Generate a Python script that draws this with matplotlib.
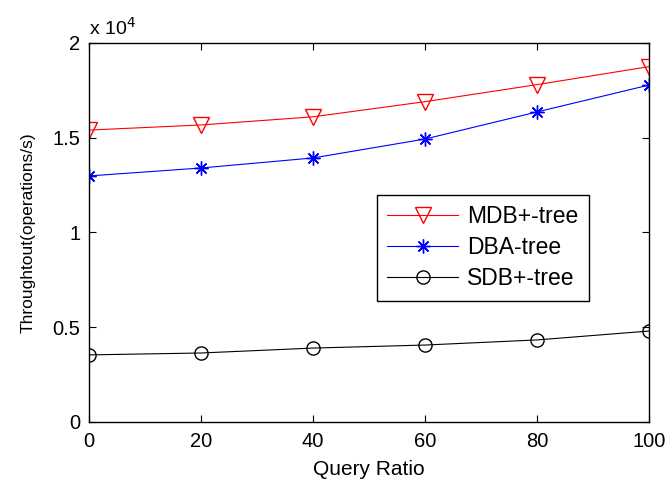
import matplotlib.pyplot as plt
import numpy as np

plt.rcParams['font.family'] = ['Liberation Sans', 'DejaVu Sans']

ratio = [0, 20, 40, 60, 80, 100]
mdb = [15400, 15670, 16100, 16900, 17800, 18750]
dba = [12980, 13400, 13930, 14930, 16360, 17780]
sdb = [3540, 3640, 3900, 4060, 4330, 4800]

fig = plt.figure(figsize=(6.68, 4.82), dpi=100)
ax = fig.add_axes([0.133, 0.1245, 0.839, 0.7865])

scale = 1e4
ax.plot(ratio, np.array(mdb) / scale, 'r-', marker='v', markersize=11,
        markerfacecolor='none', markeredgecolor='r', linewidth=0.8, label='MDB+-tree')
ax.plot(ratio, np.array(dba) / scale, 'b-', marker=(8, 2, 0), markersize=10,
        markeredgecolor='b', markeredgewidth=1.0, linewidth=0.8, label='DBA-tree')
ax.plot(ratio, np.array(sdb) / scale, 'k-', marker='o', markersize=9.5,
        markerfacecolor='none', markeredgecolor='k', linewidth=0.8, label='SDB+-tree')

ax.set_xlim(0, 100)
ax.set_ylim(0, 2)
ax.set_xticks([0, 20, 40, 60, 80, 100])
ax.set_yticks([0, 0.5, 1, 1.5, 2])
ax.set_yticklabels(['0', '0.5', '1', '1.5', '2'])
ax.tick_params(direction='in', length=5, top=True, right=True, labelsize=14.5)
ax.tick_params(axis='x', pad=7)
ax.tick_params(axis='y', pad=6)
for s in ax.spines.values():
    s.set_linewidth(1.0)

ax.set_xlabel('Query Ratio', fontsize=15, labelpad=7)
ax.set_ylabel('Throughtout(operations/s)', fontsize=12.5, labelpad=12)
ax.text(0.0, 1.012, 'x 10$^4$', transform=ax.transAxes, fontsize=14, ha='left', va='bottom')

leg = ax.legend(loc='upper left', bbox_to_anchor=(0.514, 0.599), borderaxespad=0,
                fontsize=16.5, handlelength=3.1, handletextpad=0.4, fancybox=False,
                edgecolor='k', framealpha=1, borderpad=0.45, labelspacing=0.35)
leg.get_frame().set_linewidth(1.0)

fig.savefig('out.png', dpi=100)
